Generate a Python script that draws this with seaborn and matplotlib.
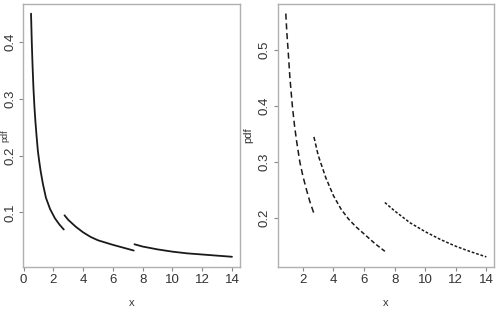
import matplotlib
matplotlib.use("Agg")
import matplotlib.pyplot as plt
import seaborn as sns
import pandas as pd

# ---- data ----
left_seg1_x = [0.5, 0.55, 0.6, 0.66, 0.73, 0.8, 0.88, 0.96, 1.05, 1.15, 1.3, 1.5, 1.78, 2.1, 2.4, 2.7]
left_seg1_y = [0.45, 0.40, 0.36, 0.32, 0.285, 0.258, 0.232, 0.208, 0.19, 0.172, 0.15, 0.126, 0.106, 0.09, 0.079, 0.07]
left_seg2_x = [2.75, 3.0, 3.5, 4.0, 4.5, 5.0, 5.5, 6.0, 6.7, 7.4]
left_seg2_y = [0.095, 0.087, 0.075, 0.065, 0.057, 0.051, 0.047, 0.043, 0.038, 0.033]
left_seg3_x = [7.45, 8.0, 9.0, 10.0, 11.0, 12.0, 13.0, 14.0]
left_seg3_y = [0.044, 0.040, 0.035, 0.031, 0.028, 0.026, 0.024, 0.022]

right_seg1_x = [0.88, 0.95, 1.03, 1.15, 1.31, 1.45, 1.6, 1.8, 2.0, 2.24, 2.45, 2.7]
right_seg1_y = [0.565, 0.53, 0.5, 0.45, 0.40, 0.365, 0.335, 0.30, 0.275, 0.25, 0.23, 0.21]
right_seg2_x = [2.72, 3.0, 3.5, 4.0, 4.5, 5.0, 5.5, 6.0, 6.7, 7.36]
right_seg2_y = [0.345, 0.312, 0.272, 0.24, 0.216, 0.198, 0.184, 0.172, 0.155, 0.141]
right_seg3_x = [7.36, 8.0, 9.0, 10.0, 11.0, 12.0, 13.0, 14.0]
right_seg3_y = [0.228, 0.213, 0.192, 0.176, 0.162, 0.150, 0.140, 0.131]

left_xticks = [0, 2, 4, 6, 8, 10, 12, 14]
left_yticks = [0.1, 0.2, 0.3, 0.4]
right_xticks = [2, 4, 6, 8, 10, 12, 14]
right_yticks = [0.2, 0.3, 0.4, 0.5]


def make_df(segs):
    rows = []
    for i, (xs, ys) in enumerate(segs):
        for xv, yv in zip(xs, ys):
            rows.append({"x": xv, "pdf": yv, "seg": f"s{i+1}"})
    return pd.DataFrame(rows)


df_left = make_df([(left_seg1_x, left_seg1_y), (left_seg2_x, left_seg2_y),
                   (left_seg3_x, left_seg3_y)])
df_right = make_df([(right_seg1_x, right_seg1_y), (right_seg2_x, right_seg2_y),
                    (right_seg3_x, right_seg3_y)])

sns.set_style("white")
plt.rcParams["font.family"] = ["Liberation Sans Narrow", "Liberation Sans", "DejaVu Sans"]

fig = plt.figure(figsize=(5.01, 3.15), dpi=100)
axL = fig.add_axes([23 / 501, 48 / 315, 217 / 501, 263 / 315])
axR = fig.add_axes([277.7 / 501, 48 / 315, 216.6 / 501, 263 / 315])

sns.lineplot(data=df_left, x="x", y="pdf", units="seg", estimator=None, sort=False,
             color="#1a1a1a", lw=1.3, ax=axL, legend=False)
sns.lineplot(data=df_right, x="x", y="pdf", style="seg", estimator=None, sort=False,
             dashes=[(4, 2.4), (2.8, 1.6), (1.8, 1.2)], color="#1a1a1a", lw=1.1,
             ax=axR, legend=False)

axL.set_xlim(-0.04, 14.54)
axL.set_ylim(0.004, 0.467)
axR.set_xlim(0.35, 14.52)
axR.set_ylim(0.113, 0.582)

for ax, xt, yt in [(axL, left_xticks, left_yticks), (axR, right_xticks, right_yticks)]:
    ax.set_xticks(xt)
    ax.set_xticklabels([str(v) for v in xt])
    ax.set_yticks(yt)
    ax.set_yticklabels([f"{v:.1f}" for v in yt], rotation=90, va="center")
    for sp in ax.spines.values():
        sp.set_visible(True)
        sp.set_color("#b0b0b0")
        sp.set_linewidth(1.0)
    ax.tick_params(axis="both", direction="out", length=3, width=0.8, color="#888888",
                   labelsize=9.5, labelcolor="#333333", pad=2, bottom=True, left=True)
    ax.set_xlabel("x", fontsize=8, color="#333333", labelpad=9)
    ax.grid(False)

axL.set_ylabel("pdf", fontsize=6.5, color="#333333")
axL.yaxis.label.set_verticalalignment("center")
axL.yaxis.set_label_coords(-0.085, 0.5)
axR.set_ylabel("pdf", fontsize=8, color="#333333", labelpad=4)

fig.savefig("out.png", dpi=100)
